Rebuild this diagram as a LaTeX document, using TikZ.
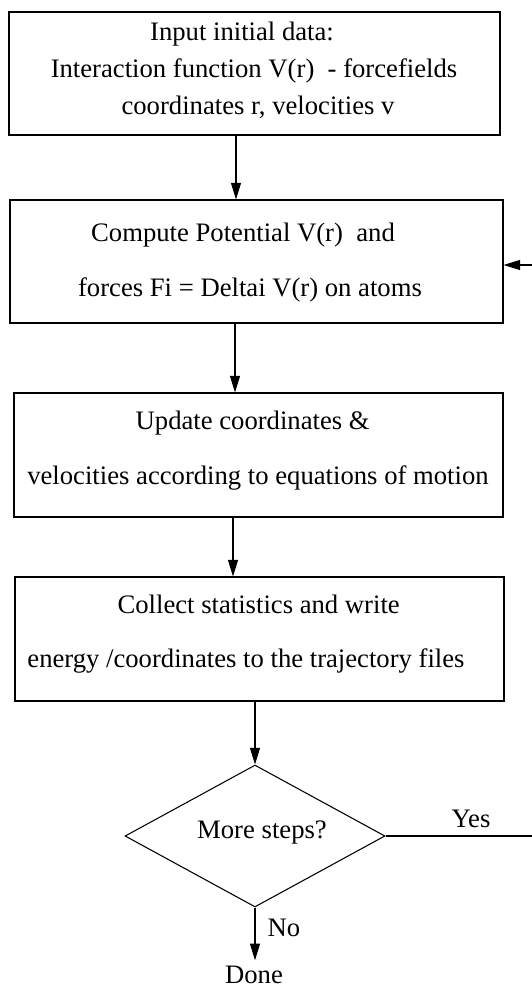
\documentclass[tikz,border=0pt]{standalone}
\usepackage{fontspec}
\setmainfont{Liberation Serif}
\usetikzlibrary{shapes.geometric,arrows.meta}
\begin{document}
\begin{tikzpicture}[x=0.75pt,y=-0.75pt,
  line width=0.8pt,
  txt/.style={font=\fontsize{20}{24}\selectfont,inner sep=0pt,align=center},
  box/.style={draw,line width=0.8pt,inner sep=0pt},
  arr/.style={line width=0.8pt,-{Triangle[length=12.5pt,width=7.5pt]}}]
\useasboundingbox (0,0) rectangle (531,994);
% boxes
\node[box,minimum width=368.25pt,minimum height=92.25pt] (b1) at (254.5,73.5) {};
\node[box,minimum width=369.75pt,minimum height=92.25pt] (b2) at (256.5,261.5) {};
\node[box,minimum width=366.75pt,minimum height=93pt] (b3) at (258.5,455) {};
\node[box,minimum width=366.75pt,minimum height=93pt] (b4) at (259.5,639) {};
\node[draw,diamond,shape aspect=1.83,inner sep=0pt,minimum width=195pt,minimum height=106.5pt] (dec) at (255,836) {};
% texts
\node[txt,font=\fontsize{20}{27.75}\selectfont] (t1) at (254,70) {Input initial data:\hspace*{18pt}\\ Interaction function V(r)\ \ - forcefields\hspace*{9pt}\\ \hspace*{6pt}coordinates r, velocities v};
\node[txt,font=\fontsize{20}{41.25}\selectfont] (t2) at (256,263) {Compute Potential V(r)\ \ and\hspace*{19.5pt}\\ forces Fi = Deltai V(r) on atoms\hspace*{9pt}};
\node[txt,font=\fontsize{20}{41.25}\selectfont] (t3) at (258,451) {Update coordinates \&\hspace*{8pt}\\ velocities according to equations of motion};
\node[txt,font=\fontsize{20}{40}\selectfont] (t4) at (256,634) {\hspace*{4pt}Collect statistics and write\\ energy /coordinates to the trajectory files\hspace*{15pt}};
\node[txt] (t5) at (262,833) {More steps?};
\node[txt,anchor=base] (yes) at (471,827) {Yes};
\node[txt,anchor=base] (no) at (284,936) {No};
\node[txt,inner sep=4pt] (done) at (254,975) {Done};
\coordinate (loop) at (532.5,836);
% connectors
\draw[arr] (b1.south -| 236,0) -- (b2.north -| 236,0);
\draw[arr] (b2.south -| 235,0) -- (b3.north -| 235,0);
\draw[arr] (b3.south -| 233,0) -- (b4.north -| 233,0);
\draw[arr] (b4.south -| dec.north) -- (dec.north);
\draw[arr] (dec.south) -- (done.north -| dec.south);
\draw[arr] (dec.east) -- (loop) |- (b2.east |- 0,265);
\end{tikzpicture}
\end{document}
